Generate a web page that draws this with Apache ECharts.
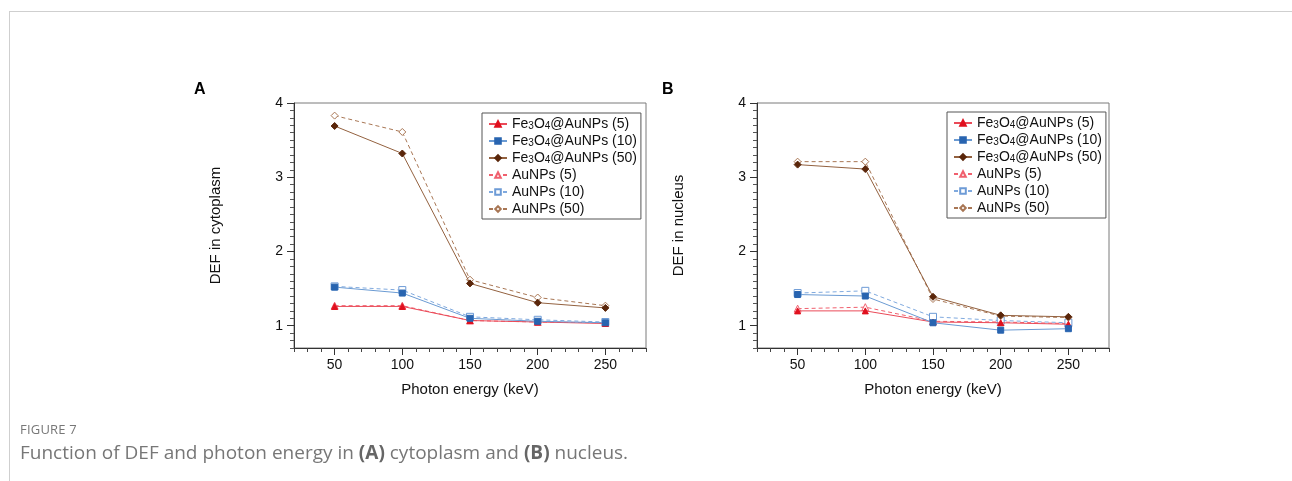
<!DOCTYPE html>
<html>
<head>
<meta charset="utf-8">
<script src="https://cdn.jsdelivr.net/npm/echarts@6/dist/echarts.min.js"></script>
<style>
  html, body { margin: 0; padding: 0; background: #fff; }
  body { width: 1292px; height: 481px; position: relative; overflow: hidden; }
  #frameTop { position: absolute; left: 9px; top: 11px; width: 1283px; height: 1px; background: #cfcfcf; }
  #frameLeft { position: absolute; left: 9px; top: 11px; width: 1px; height: 470px; background: #cfcfcf; }
  #chart { position: absolute; left: 0; top: 0; width: 1292px; height: 481px; }
  .cap1 { position: absolute; left: 20px; top: 420px; font-family: "Open Sans", sans-serif; font-size: 13px; color: #777; letter-spacing: 0.2px; }
  .cap2 { position: absolute; left: 20px; top: 439px; font-family: "Open Sans", sans-serif; font-size: 19px; color: #777; }
  .cap2 b { font-weight: 700; color: #666; }
</style>
</head>
<body>
<div id="frameTop"></div>
<div id="frameLeft"></div>
<div id="chart"></div>
<div class="cap1">FIGURE 7</div>
<div class="cap2">Function of DEF and photon energy in <b>(A)</b> cytoplasm and <b>(B)</b> nucleus.</div>
<script>
// ---- data ----
var energies = [50, 100, 150, 200, 250];
var xTickLabels = [50, 100, 150, 200, 250];
var yTickLabels = [1, 2, 3, 4];
var seriesNames = ['Fe3O4@AuNPs (5)', 'Fe3O4@AuNPs (10)', 'Fe3O4@AuNPs (50)', 'AuNPs (5)', 'AuNPs (10)', 'AuNPs (50)'];

// Panel A: cytoplasm
var cytoFe5  = [1.26, 1.26, 1.07, 1.05, 1.03];
var cytoFe10 = [1.52, 1.44, 1.10, 1.06, 1.04];
var cytoFe50 = [3.69, 3.32, 1.57, 1.31, 1.24];
var cytoAu5  = [1.27, 1.27, 1.07, 1.05, 1.04];
var cytoAu10 = [1.53, 1.48, 1.12, 1.08, 1.05];
var cytoAu50 = [3.83, 3.61, 1.62, 1.38, 1.27];

// Panel B: nucleus
var nucFe5  = [1.20, 1.20, 1.05, 1.04, 1.02];
var nucFe10 = [1.42, 1.40, 1.04, 0.94, 0.96];
var nucFe50 = [3.17, 3.11, 1.39, 1.14, 1.12];
var nucAu5  = [1.23, 1.25, 1.06, 1.05, 1.03];
var nucAu10 = [1.44, 1.47, 1.12, 1.07, 1.04];
var nucAu50 = [3.21, 3.21, 1.36, 1.13, 1.11];

// ---- styling ----
var FONT = '"Liberation Sans", Arial, Helvetica, sans-serif';
var styles = [
  { symbol: 'triangle', size: 6, fill: '#e0101e', stroke: '#e0101e', line: '#ea4a58', type: 'solid' },
  { symbol: 'rect',     size: 6, fill: '#2864b0', stroke: '#2864b0', line: '#6b9bd3', type: 'solid' },
  { symbol: 'diamond',  size: 7, fill: '#5a260a', stroke: '#5a260a', line: '#93613f', type: 'solid' },
  { symbol: 'triangle', size: 7, fill: '#ffffff', stroke: '#f0606e', line: '#f0606e', type: [4, 3] },
  { symbol: 'rect',     size: 7, fill: '#ffffff', stroke: '#6d9bd6', line: '#7fa9de', type: [4, 3] },
  { symbol: 'diamond',  size: 7, fill: '#ffffff', stroke: '#a87654', line: '#a87654', type: [4, 3] }
];

function zip(vals) { return energies.map(function (e, i) { return [e, vals[i]]; }); }

function makeSeries(panel, arrays) {
  return arrays.map(function (vals, k) {
    var s = styles[k];
    return {
      name: seriesNames[k], type: 'line',
      xAxisIndex: panel * 2, yAxisIndex: panel * 2,
      data: zip(vals),
      symbol: s.symbol, symbolSize: s.size,
      itemStyle: { color: s.fill, borderColor: s.stroke, borderWidth: 1 },
      lineStyle: { color: s.line, width: 1, type: s.type },
      z: k < 3 ? 3 : 2,
      animation: false
    };
  });
}

function xAxes(g) {
  return [
    { gridIndex: g, type: 'value', position: 'bottom', min: 20, max: 280, interval: 10,
      axisLine: { show: true, lineStyle: { color: '#333', width: 1 } },
      axisTick: { show: true, length: 4, lineStyle: { color: '#444' } },
      axisLabel: { show: false }, splitLine: { show: false } },
    { gridIndex: g, type: 'value', position: 'bottom', min: 20, max: 280, interval: 10,
      axisLine: { show: false },
      axisTick: { show: true, length: 7, customValues: xTickLabels, lineStyle: { color: '#333' } },
      axisLabel: { show: true, customValues: xTickLabels, margin: 10, color: '#111', fontFamily: FONT, fontSize: 14 },
      splitLine: { show: false },
      name: 'Photon energy (keV)', nameLocation: 'middle', nameGap: 34,
      nameTextStyle: { color: '#111', fontFamily: FONT, fontSize: 15 } }
  ];
}
function yAxes(g, title) {
  return [
    { gridIndex: g, type: 'value', position: 'left', min: 0.7, max: 4, interval: 0.1,
      axisLine: { show: true, lineStyle: { color: '#333', width: 1 } },
      axisTick: { show: true, length: 4, lineStyle: { color: '#555' } },
      axisLabel: { show: false }, splitLine: { show: false } },
    { gridIndex: g, type: 'value', position: 'left', min: 0.7, max: 4, interval: 0.1,
      axisLine: { show: false },
      axisTick: { show: true, length: 7, customValues: yTickLabels, lineStyle: { color: '#333' } },
      axisLabel: { show: true, customValues: yTickLabels, margin: 11, color: '#111', fontFamily: FONT, fontSize: 14 },
      splitLine: { show: false },
      name: title, nameLocation: 'middle', nameGap: 71,
      nameTextStyle: { color: '#111', fontFamily: FONT, fontSize: 15 } }
  ];
}

function legendFmt(name) {
  if (name.indexOf('Fe3O4') === 0) {
    return '{n|Fe}{s|3}{n|O}{s|4}{n|' + name.slice(5) + '}';
  }
  return '{n|' + name + '}';
}
function makeLegend(left, top) {
  return {
    left: left, top: top, orient: 'vertical',
    data: seriesNames,
    itemWidth: 18, itemHeight: 7, itemGap: 3,
    padding: [4, 4, 3, 6],
    borderColor: '#555', borderWidth: 1, backgroundColor: '#fff',
    selectedMode: false,
    formatter: legendFmt,
    textStyle: {
      fontFamily: FONT, fontSize: 14, color: '#111', lineHeight: 14,
      rich: {
        n: { fontFamily: FONT, fontSize: 14, color: '#111', lineHeight: 14, verticalAlign: 'bottom' },
        s: { fontFamily: FONT, fontSize: 10, color: '#111', lineHeight: 3, verticalAlign: 'bottom' }
      }
    }
  };
}

var chart = echarts.init(document.getElementById('chart'), null, { renderer: 'canvas' });
chart.setOption({
  animation: false,
  backgroundColor: 'transparent',
  title: [
    { text: 'A', left: 189, top: 77, textStyle: { fontFamily: FONT, fontSize: 16, fontWeight: 'bold', color: '#000' } },
    { text: 'B', left: 657, top: 77, textStyle: { fontFamily: FONT, fontSize: 16, fontWeight: 'bold', color: '#000' } }
  ],
  grid: [
    { left: 294, top: 103, width: 352, height: 245, show: true, borderColor: '#7a7a7a', borderWidth: 1, backgroundColor: 'transparent' },
    { left: 757, top: 103, width: 352, height: 245, show: true, borderColor: '#7a7a7a', borderWidth: 1, backgroundColor: 'transparent' }
  ],
  xAxis: xAxes(0).concat(xAxes(1)),
  yAxis: yAxes(0, 'DEF in cytoplasm').concat(yAxes(1, 'DEF in nucleus')),
  legend: [ makeLegend(482, 113), makeLegend(947, 112) ],
  series: makeSeries(0, [cytoFe5, cytoFe10, cytoFe50, cytoAu5, cytoAu10, cytoAu50])
    .concat(makeSeries(1, [nucFe5, nucFe10, nucFe50, nucAu5, nucAu10, nucAu50]))
});
</script>
</body>
</html>
